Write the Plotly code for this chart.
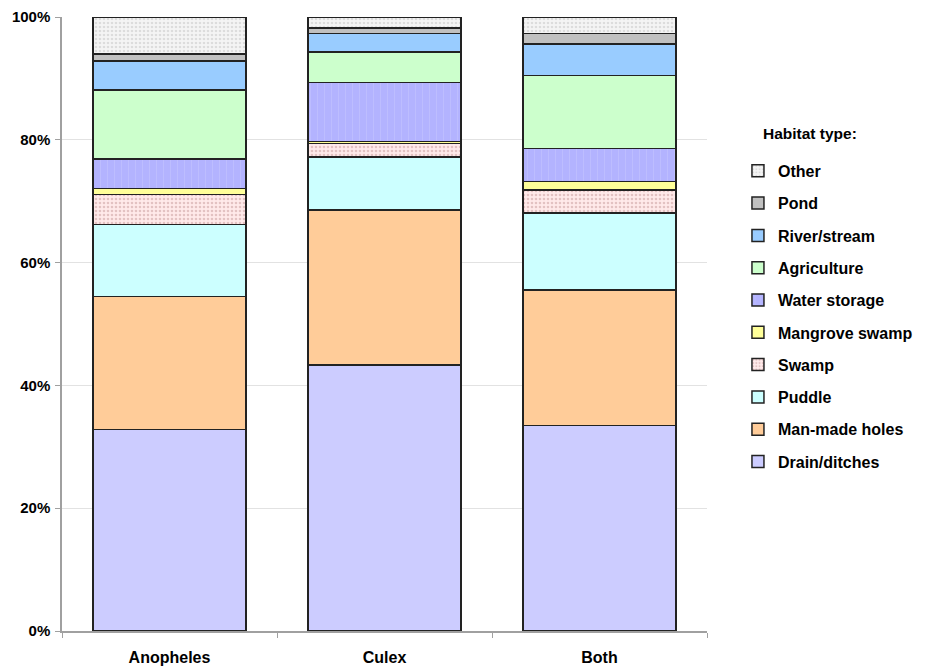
import plotly.graph_objects as go

categories = ["Anopheles", "Culex", "Both"]

# Percent of habitats (stacked bottom to top)
habitats = ["Drain/ditches", "Man-made holes", "Puddle", "Swamp", "Mangrove swamp",
            "Water storage", "Agriculture", "River/stream", "Pond", "Other"]
drain = [32.8, 43.3, 33.5]
manmade = [21.7, 25.3, 22.0]
puddle = [11.7, 8.6, 12.6]
swamp = [4.9, 2.2, 3.7]
mangrove = [1.0, 0.3, 1.4]
water_storage = [4.8, 9.6, 5.4]
agriculture = [11.2, 5.0, 11.9]
river = [4.7, 3.0, 5.1]
pond = [1.2, 0.9, 1.75]
other = [6.0, 1.8, 2.65]

series = [drain, manmade, puddle, swamp, mangrove, water_storage, agriculture, river, pond, other]

styles = [
    dict(color="#ccccff"),
    dict(color="#ffcc99"),
    dict(color="#ccffff"),
    dict(color="#ffe6e6", pattern=dict(shape=".", fgcolor="#c89a9a", bgcolor="#ffeaea", size=4, solidity=0.35)),
    dict(color="#ffff99"),
    dict(color="#b8b8ff", pattern=dict(shape="|", fgcolor="#c8c8ff", bgcolor="#b3b3ff", size=7, solidity=0.15)),
    dict(color="#ccffcc"),
    dict(color="#99ccff"),
    dict(color="#c0c0c0"),
    dict(color="#eeeeee", pattern=dict(shape=".", fgcolor="#c4c4c4", bgcolor="#f4f4f4", size=4, solidity=0.35)),
]

n = len(habitats)
fig = go.Figure()
for i, (name, vals, st) in enumerate(zip(habitats, series, styles)):
    marker = dict(color=st["color"], line=dict(color="#222222", width=1.5))
    if "pattern" in st:
        marker["pattern"] = st["pattern"]
    fig.add_trace(go.Bar(x=categories, y=vals, name="<b>" + name + "</b>", marker=marker,
                         legendgroup=name, legendrank=n - i, width=0.713))

FONT = "Liberation Sans, Arial, sans-serif"

fig.update_layout(
    width=918, height=660,
    barmode="stack",
    plot_bgcolor="white", paper_bgcolor="white",
    margin=dict(l=54, r=216, t=8.5, b=37),
    font=dict(family=FONT, size=15, color="black"),
    showlegend=True,
    legend=dict(
        traceorder="grouped",
        tracegroupgap=8.5,
        x=1.048, xanchor="left", y=0.777, yanchor="top",
        font=dict(size=16, family=FONT),
        bgcolor="rgba(0,0,0,0)",
    ),
    annotations=[dict(
        text="<b>Habitat type:</b>", xref="paper", yref="paper",
        x=1.083, y=0.81, xanchor="left", yanchor="middle",
        showarrow=False, font=dict(size=15.5, family=FONT),
    )],
)

fig.update_xaxes(
    showline=True, linecolor="#a0a0a0", linewidth=1.5,
    ticks="outside", tickson="boundaries", ticklen=5, tickcolor="#a0a0a0",
    tickfont=dict(size=16), tickprefix="<b>", ticksuffix="</b>",
    ticklabelstandoff=11, automargin=False,
)
fig.update_yaxes(
    range=[0, 100], tickvals=[0, 20, 40, 60, 80, 100],
    ticktext=["<b>0%</b>", "<b>20%</b>", "<b>40%</b>", "<b>60%</b>", "<b>80%</b>", "<b>100%</b>"],
    showline=True, linecolor="#a0a0a0", linewidth=1.5,
    ticks="outside", ticklen=5, tickcolor="#a0a0a0",
    showgrid=True, gridcolor="#e2e2e2", gridwidth=1,
    zeroline=False, tickfont=dict(size=15), automargin=False,
    ticklabelstandoff=2,
)

fig.write_html("out.html")
